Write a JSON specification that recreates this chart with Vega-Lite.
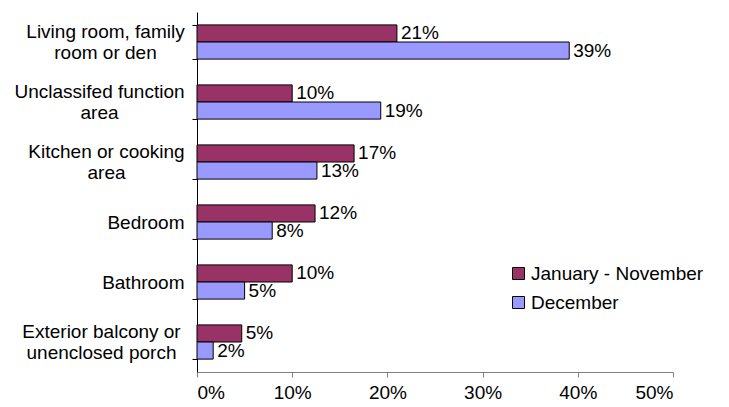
{
  "$schema": "https://vega.github.io/schema/vega-lite/v6.json",
  "width": 476,
  "height": 360,
  "autosize": "none",
  "padding": {"left": 197, "top": 12, "right": 56, "bottom": 35},
  "background": "white",
  "config": {
    "view": {"stroke": null},
    "font": "Liberation Sans",
    "text": {"font": "Liberation Sans"}
  },
  "data": {
    "values": [
      {"room": "Living room, family room or den", "series": "January - November", "share": 0.21},
      {"room": "Living room, family room or den", "series": "December", "share": 0.391},
      {"room": "Unclassifed function area", "series": "January - November", "share": 0.10},
      {"room": "Unclassifed function area", "series": "December", "share": 0.193},
      {"room": "Kitchen or cooking area", "series": "January - November", "share": 0.165},
      {"room": "Kitchen or cooking area", "series": "December", "share": 0.126},
      {"room": "Bedroom", "series": "January - November", "share": 0.124},
      {"room": "Bedroom", "series": "December", "share": 0.079},
      {"room": "Bathroom", "series": "January - November", "share": 0.10},
      {"room": "Bathroom", "series": "December", "share": 0.05},
      {"room": "Exterior balcony or unenclosed porch", "series": "January - November", "share": 0.047},
      {"room": "Exterior balcony or unenclosed porch", "series": "December", "share": 0.017}
    ]
  },
  "encoding": {
    "y": {
      "field": "room",
      "type": "nominal",
      "sort": ["Living room, family room or den", "Unclassifed function area", "Kitchen or cooking area", "Bedroom", "Bathroom", "Exterior balcony or unenclosed porch"],
      "scale": {"paddingInner": 0.43, "paddingOuter": 0.215},
      "axis": {
        "title": null,
        "domainColor": "#000000",
        "tickColor": "#000000",
        "tickSize": 5,
        "tickBand": "extent",
        "labelFontSize": 19,
        "labelColor": "#000000",
        "labelLineHeight": 21,
        "labelLimit": 300,
        "labelExpr": "datum.value == 'Living room, family room or den' ? ['Living room, family', 'room or den'] : datum.value == 'Unclassifed function area' ? ['Unclassifed function', 'area'] : datum.value == 'Kitchen or cooking area' ? ['Kitchen or cooking', 'area'] : datum.value == 'Exterior balcony or unenclosed porch' ? ['Exterior balcony or', 'unenclosed porch'] : datum.value",
        "labelAlign": {"condition": {"test": "datum.value == 'Bedroom' || datum.value == 'Bathroom'", "value": "right"}, "value": "center"},
        "labelOffset": {"condition": {"test": "datum.value == 'Bedroom' || datum.value == 'Bathroom'", "value": 0}, "value": -10.5},
        "labelPadding": {
          "condition": [
            {"test": "datum.value == 'Bedroom' || datum.value == 'Bathroom'", "value": 8},
            {"test": "datum.value == 'Unclassifed function area'", "value": 93},
            {"test": "datum.value == 'Kitchen or cooking area'", "value": 86},
            {"test": "datum.value == 'Exterior balcony or unenclosed porch'", "value": 91}
          ],
          "value": 87
        }
      }
    },
    "yOffset": {
      "field": "series",
      "type": "nominal",
      "sort": ["January - November", "December"]
    },
    "x": {
      "field": "share",
      "type": "quantitative",
      "scale": {"domain": [0, 0.5], "nice": false},
      "axis": {
        "title": null,
        "format": ".0%",
        "values": [0, 0.1, 0.2, 0.3, 0.4, 0.5],
        "grid": false,
        "domainColor": "#808080",
        "tickColor": "#808080",
        "tickSize": 5,
        "labelFontSize": 19,
        "labelColor": "#000000",
        "labelPadding": 6
      }
    }
  },
  "layer": [
    {
      "mark": {"type": "bar", "stroke": "#000000", "strokeWidth": 1},
      "encoding": {
        "color": {
          "field": "series",
          "type": "nominal",
          "scale": {"domain": ["January - November", "December"], "range": ["#993366", "#9999FF"]},
          "legend": {
            "title": null,
            "orient": "none",
            "legendX": 312,
            "legendY": 252,
            "symbolType": "square",
            "symbolSize": 144,
            "symbolStrokeColor": "#000000",
            "symbolStrokeWidth": 1,
            "labelFontSize": 19,
            "labelColor": "#000000",
            "labelLimit": 300,
            "rowPadding": 9,
            "labelOffset": 3
          }
        }
      }
    },
    {
      "mark": {"type": "text", "align": "left", "baseline": "middle", "dx": 4, "fontSize": 19, "color": "#000000"},
      "encoding": {
        "text": {"field": "share", "type": "quantitative", "format": ".0%"}
      }
    }
  ]
}
